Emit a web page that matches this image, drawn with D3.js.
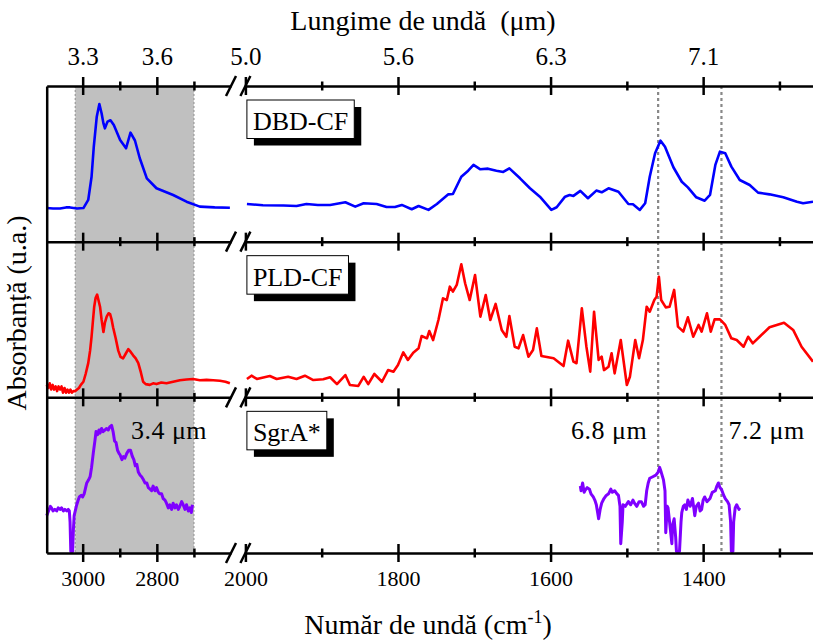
<!DOCTYPE html>
<html>
<head>
<meta charset="utf-8">
<script src="https://cdn.jsdelivr.net/npm/d3@7"></script>
<style>
  body { margin: 0; background: #fff; }
  svg { font-family: "Liberation Serif", "Times New Roman", serif; }
</style>
</head>
<body>
<svg width="813" height="641"></svg>
<script>
// wavenumber (cm-1), absorbance (a.u., normalised per panel)
var dbdLeft = [[3097,0.216],[3080,0.213],[3061,0.213],[3045,0.22],[3034,0.22],[3015,0.213],[2998,0.216],[2985,0.268],[2976,0.417],[2970,0.61],[2962,0.803],[2955,0.884],[2949,0.825],[2944,0.76],[2940,0.728],[2933,0.771],[2925,0.78],[2916,0.75],[2899,0.653],[2883,0.6],[2871,0.7],[2859,0.65],[2846,0.536],[2827,0.407],[2801,0.343],[2756,0.3],[2720,0.257],[2684,0.225],[2644,0.22],[2603,0.218]];
var dbdRight = [[1998,0.242],[1977,0.234],[1950,0.232],[1933,0.229],[1920,0.242],[1905,0.236],[1889,0.236],[1869,0.253],[1856,0.225],[1845,0.247],[1828,0.242],[1815,0.223],[1804,0.223],[1795,0.236],[1782,0.208],[1773,0.229],[1760,0.204],[1749,0.242],[1734,0.304],[1728,0.306],[1717,0.417],[1708,0.456],[1701,0.493],[1692,0.465],[1682,0.469],[1671,0.456],[1662,0.448],[1654,0.471],[1640,0.407],[1627,0.343],[1614,0.289],[1599,0.204],[1592,0.221],[1581,0.289],[1575,0.3],[1570,0.294],[1561,0.326],[1551,0.279],[1540,0.328],[1533,0.317],[1524,0.343],[1511,0.321],[1498,0.242],[1492,0.24],[1483,0.204],[1476,0.247],[1470,0.417],[1463,0.568],[1456,0.649],[1450,0.61],[1439,0.478],[1428,0.385],[1420,0.349],[1409,0.285],[1398,0.263],[1391,0.3],[1384,0.493],[1378,0.578],[1371,0.568],[1363,0.482],[1352,0.396],[1339,0.364],[1328,0.315],[1313,0.304],[1295,0.285],[1277,0.257],[1269,0.247],[1256,0.257]];

var pldLeft = [[3097,0.08],[3093,0.06],[3089,0.09],[3085,0.05],[3081,0.08],[3077,0.05],[3073,0.07],[3069,0.04],[3065,0.07],[3061,0.05],[3057,0.07],[3053,0.03],[3049,0.06],[3045,0.03],[3041,0.05],[3037,0.03],[3033,0.05],[3029,0.03],[3025,0.04],[3020,0.04],[3015,0.05],[3010,0.06],[3005,0.08],[2998,0.1],[2992,0.15],[2985,0.22],[2980,0.3],[2976,0.39],[2972,0.5],[2969,0.58],[2965,0.64],[2961,0.66],[2957,0.62],[2953,0.58],[2949,0.5],[2944,0.42],[2940,0.48],[2935,0.52],[2930,0.54],[2926,0.535],[2922,0.5],[2918,0.45],[2911,0.38],[2904,0.3],[2898,0.26],[2891,0.25],[2884,0.28],[2877,0.31],[2870,0.29],[2864,0.27],[2857,0.25],[2850,0.22],[2843,0.16],[2837,0.1],[2830,0.085],[2819,0.08],[2810,0.09],[2801,0.085],[2788,0.095],[2774,0.09],[2756,0.1],[2738,0.11],[2720,0.115],[2702,0.118],[2684,0.11],[2666,0.112],[2648,0.11],[2630,0.107],[2615,0.1],[2603,0.09]];
var pldRight = [[1998,0.118],[1992,0.139],[1985,0.118],[1968,0.137],[1959,0.118],[1944,0.132],[1933,0.118],[1922,0.139],[1911,0.111],[1898,0.116],[1889,0.129],[1880,0.085],[1869,0.143],[1863,0.079],[1852,0.073],[1845,0.132],[1839,0.085],[1831,0.15],[1821,0.1],[1813,0.175],[1806,0.165],[1800,0.208],[1793,0.289],[1787,0.24],[1780,0.287],[1773,0.315],[1769,0.394],[1762,0.379],[1759,0.426],[1754,0.368],[1747,0.497],[1741,0.636],[1736,0.625],[1732,0.711],[1728,0.679],[1723,0.722],[1717,0.855],[1712,0.733],[1706,0.625],[1699,0.786],[1692,0.518],[1685,0.657],[1679,0.497],[1672,0.6],[1664,0.433],[1658,0.389],[1654,0.522],[1647,0.325],[1642,0.315],[1636,0.4],[1629,0.261],[1623,0.304],[1618,0.443],[1612,0.265],[1596,0.251],[1583,0.201],[1577,0.364],[1570,0.229],[1566,0.219],[1559,0.572],[1553,0.325],[1548,0.165],[1543,0.55],[1537,0.24],[1533,0.261],[1530,0.175],[1524,0.197],[1520,0.283],[1516,0.154],[1508,0.368],[1500,0.079],[1496,0.132],[1489,0.368],[1484,0.251],[1479,0.368],[1474,0.582],[1470,0.55],[1464,0.625],[1461,0.647],[1458,0.775],[1455,0.625],[1449,0.578],[1444,0.582],[1438,0.69],[1433,0.454],[1426,0.422],[1420,0.514],[1413,0.389],[1406,0.465],[1402,0.422],[1395,0.54],[1390,0.422],[1385,0.501],[1378,0.501],[1371,0.465],[1363,0.379],[1356,0.368],[1347,0.325],[1341,0.389],[1335,0.347],[1326,0.389],[1313,0.45],[1294,0.479],[1282,0.433],[1271,0.325],[1256,0.229]];

var sgrLeft = [[3097,0.24],[3092,0.27],[3087,0.3],[3084,0.29],[3080,0.27],[3075,0.28],[3070,0.27],[3066,0.29],[3061,0.28],[3057,0.29],[3052,0.27],[3048,0.28],[3043,0.27],[3039,0.28],[3036,0.27],[3034,0.2],[3032,0.01],[3027,0.01],[3025,0.15],[3023,0.24],[3019,0.28],[3016,0.31],[3012,0.34],[3009,0.36],[3004,0.37],[3000,0.36],[2996,0.38],[2992,0.42],[2989,0.45],[2984,0.47],[2980,0.49],[2976,0.55],[2971,0.65],[2967,0.72],[2964,0.78],[2960,0.76],[2956,0.79],[2953,0.77],[2949,0.8],[2945,0.78],[2940,0.79],[2936,0.8],[2931,0.79],[2927,0.81],[2922,0.82],[2918,0.78],[2914,0.72],[2910,0.71],[2906,0.66],[2902,0.64],[2899,0.63],[2894,0.6],[2890,0.62],[2886,0.61],[2881,0.64],[2876,0.66],[2871,0.66],[2866,0.62],[2862,0.6],[2858,0.56],[2854,0.57],[2850,0.52],[2845,0.5],[2841,0.49],[2836,0.47],[2832,0.45],[2827,0.45],[2823,0.42],[2818,0.41],[2814,0.4],[2810,0.43],[2805,0.4],[2801,0.42],[2796,0.39],[2792,0.38],[2787,0.38],[2783,0.35],[2778,0.34],[2774,0.32],[2769,0.29],[2765,0.31],[2760,0.28],[2756,0.32],[2751,0.29],[2747,0.31],[2742,0.28],[2738,0.3],[2733,0.33],[2729,0.31],[2724,0.28],[2720,0.31],[2715,0.27],[2711,0.29],[2707,0.26],[2704,0.31]];
var sgrRight = [[1561,0.43],[1560,0.4],[1558,0.45],[1556,0.39],[1555,0.4],[1552,0.42],[1549,0.41],[1547,0.38],[1544,0.36],[1542,0.34],[1540,0.31],[1538,0.25],[1537,0.22],[1535,0.28],[1533,0.32],[1530,0.35],[1527,0.37],[1524,0.38],[1521,0.41],[1519,0.39],[1516,0.4],[1513,0.38],[1511,0.37],[1509,0.3],[1508,0.06],[1506,0.2],[1505,0.31],[1502,0.3],[1498,0.33],[1495,0.31],[1492,0.34],[1490,0.32],[1487,0.3],[1484,0.33],[1481,0.33],[1478,0.3],[1476,0.31],[1474,0.4],[1472,0.45],[1470,0.48],[1466,0.49],[1462,0.5],[1459,0.52],[1457,0.55],[1455,0.52],[1452,0.47],[1450,0.4],[1449,0.13],[1447,0.3],[1446,0.29],[1444,0.2],[1441,0.06],[1440,0.18],[1438,0.22],[1436,0.1],[1435,0.01],[1433,0.01],[1431,0.01],[1429,0.2],[1428,0.26],[1426,0.3],[1424,0.31],[1422,0.28],[1420,0.34],[1417,0.3],[1414,0.35],[1412,0.28],[1411,0.24],[1409,0.3],[1406,0.32],[1404,0.27],[1402,0.28],[1400,0.34],[1398,0.36],[1395,0.33],[1391,0.35],[1388,0.39],[1384,0.4],[1382,0.43],[1380,0.45],[1378,0.42],[1376,0.41],[1373,0.37],[1371,0.35],[1368,0.33],[1366,0.31],[1364,0.2],[1363,0.01],[1361,0.01],[1360,0.2],[1358,0.29],[1356,0.31],[1355,0.3],[1353,0.28],[1352,0.29]];

var panelNames = ["DBD-CF", "PLD-CF", "SgrA*"];
var panelColors = ["#0000ff", "#ff0000", "#7f00ff"];
var majorLeft = [3000, 2800], minorLeft = [2900, 2700];
var majorRight = [2000, 1800, 1600, 1400], minorRight = [1900, 1700, 1500, 1300];
var shadeBand = [3020, 2700];      // 3.3 - 3.7 um band
var markLines = [1459, 1376];      // 6.8 and 7.2 um
var annotations = [["3.4 μm", 2870, "start"], ["6.8 μm", 1459, "end"], ["7.2 μm", 1376, "start"]];

var svg = d3.select("svg"),
    top0 = 86, bottom0 = 553,
    panelH = (bottom0 - top0) / 3;

var xL = d3.scaleLinear().domain([3097, 2600]).range([46.7, 231]);
var xR = d3.scaleLinear().domain([2000, 1256]).range([245.4, 813]);
function xw(w) { return w > 2300 ? xL(w) : xR(w); }

var yPanels = [0, 1, 2].map(function(i) {
  return d3.scaleLinear().domain([0, 1]).range([top0 + (i + 1) * panelH, top0 + i * panelH]);
});

// grey band
svg.append("rect")
    .attr("x", xL(shadeBand[0]))
    .attr("y", top0)
    .attr("width", xL(shadeBand[1]) - xL(shadeBand[0]))
    .attr("height", bottom0 - top0)
    .style("fill", "#c0c0c0");
shadeBand.forEach(function(w) {
  svg.append("line")
      .attr("x1", xL(w)).attr("x2", xL(w))
      .attr("y1", top0).attr("y2", bottom0)
      .style("stroke", "#999").style("stroke-width", 1.2)
      .style("stroke-dasharray", "2,2");
});

// dotted marker lines
markLines.forEach(function(w) {
  svg.append("line")
      .attr("x1", xR(w)).attr("x2", xR(w))
      .attr("y1", top0).attr("y2", bottom0)
      .style("stroke", "#888").style("stroke-width", 2.2)
      .style("stroke-dasharray", "3,3");
});

// spectra
var series = [[dbdLeft, dbdRight], [pldLeft, pldRight], [sgrLeft, sgrRight]];
series.forEach(function(segs, i) {
  var line = d3.line()
      .x(function(d) { return xw(d[0]); })
      .y(function(d) { return yPanels[i](d[1]); });
  segs.forEach(function(seg) {
    svg.append("path")
        .attr("d", line(seg))
        .style("fill", "none")
        .style("stroke", panelColors[i])
        .style("stroke-width", i == 2 ? 3 : 2.6)
        .style("stroke-linejoin", "round");
  });
});

// horizontal axes (top, separators, bottom)
function hAxis(y, kind) {
  [[xL, majorLeft, minorLeft], [xR, majorRight, minorRight]].forEach(function(s) {
    var maker = kind == "top" ? d3.axisTop : d3.axisBottom;
    var ax = maker(s[0]).tickValues(s[1]).tickSizeInner(9).tickSizeOuter(0).tickPadding(kind == "top" ? 12 : 8);
    if (kind == "top") ax.tickFormat(function(d) { return (1e4 / d).toFixed(1); });
    else if (kind == "bottom") ax.tickFormat(d3.format("d"));
    else ax.tickFormat("");
    var g = svg.append("g").attr("transform", "translate(0," + y + ")").call(ax);
    g.selectAll(".tick line").attr("y1", -9).attr("y2", 9).style("stroke-width", 2.5);
    g.select(".domain").style("stroke-width", 2.5);
    g.selectAll("text")
        .style("font-size", kind == "top" ? "25px" : "22px")
        .style("font-family", "Liberation Serif, serif").attr("fill", "#000");

    var mg = svg.append("g").attr("transform", "translate(0," + y + ")")
        .call(d3.axisBottom(s[0]).tickValues(s[2]).tickSize(4).tickFormat(""));
    mg.select(".domain").remove();
    mg.selectAll(".tick line").attr("y1", -4.5).attr("y2", 4.5).style("stroke-width", 2.5);
  });
  // break marks
  [xL(2600), xR(2000)].forEach(function(x) {
    svg.append("line")
        .attr("x1", x - 5).attr("y1", y + 10)
        .attr("x2", x + 5).attr("y2", y - 10)
        .style("stroke", "#000").style("stroke-width", 2.5);
  });
}
hAxis(top0, "top");
hAxis(top0 + panelH, "mid");
hAxis(top0 + 2 * panelH, "mid");
hAxis(bottom0, "bottom");

// left axis
var yAll = d3.scaleLinear().domain([0, 3]).range([bottom0, top0]);
svg.append("g").attr("transform", "translate(" + xL.range()[0] + ",0)")
    .call(d3.axisLeft(yAll).tickValues([]).tickSizeOuter(0))
    .select(".domain").style("stroke-width", 2.5);

// panel name boxes
panelNames.forEach(function(name, i) {
  var bx = xR(2000) + 1.5, by = top0 + i * panelH + 14;
  var g = svg.append("g");
  var shadow = g.append("rect");
  var box = g.append("rect");
  var t = g.append("text")
      .attr("x", bx + 6).attr("y", by + 30)
      .style("font-size", "26px")
      .text(name);
  var w = t.node().getBBox().width + 12, h = 38.5;
  shadow.attr("x", bx + 7).attr("y", by + 7).attr("width", w).attr("height", h).style("fill", "#000");
  box.attr("x", bx).attr("y", by).attr("width", w).attr("height", h)
      .style("fill", "#fff").style("stroke", "#000").style("stroke-width", 1);
});

// wavelength annotations in the SgrA* panel
annotations.forEach(function(a) {
  var x = a[1] > 2300 ? xL(a[1]) : xR(a[1]) + (a[2] == "end" ? -11 : 7);
  svg.append("text")
      .attr("x", x).attr("y", top0 + 2 * panelH + 42)
      .attr("text-anchor", a[2])
      .style("font-size", "26px")
      .style("letter-spacing", "0.5px")
      .text(a[0]);
});

// titles
svg.append("text")
    .attr("x", 423).attr("y", 30)
    .attr("text-anchor", "middle")
    .style("font-size", "28px")
    .style("white-space", "pre")
    .text("Lungime de undă  (μm)");

var bt = svg.append("text")
    .attr("x", 428).attr("y", 634)
    .attr("text-anchor", "middle")
    .style("font-size", "28px");
bt.append("tspan").text("Număr de undă (cm");
bt.append("tspan").attr("dy", -11).style("font-size", "18px").text("-1");
bt.append("tspan").attr("dy", 11).text(")");

svg.append("text")
    .attr("transform", "translate(26,313) rotate(-90)")
    .attr("text-anchor", "middle")
    .style("font-size", "28px")
    .text("Absorbanță (u.a.)");
</script>
</body>
</html>
